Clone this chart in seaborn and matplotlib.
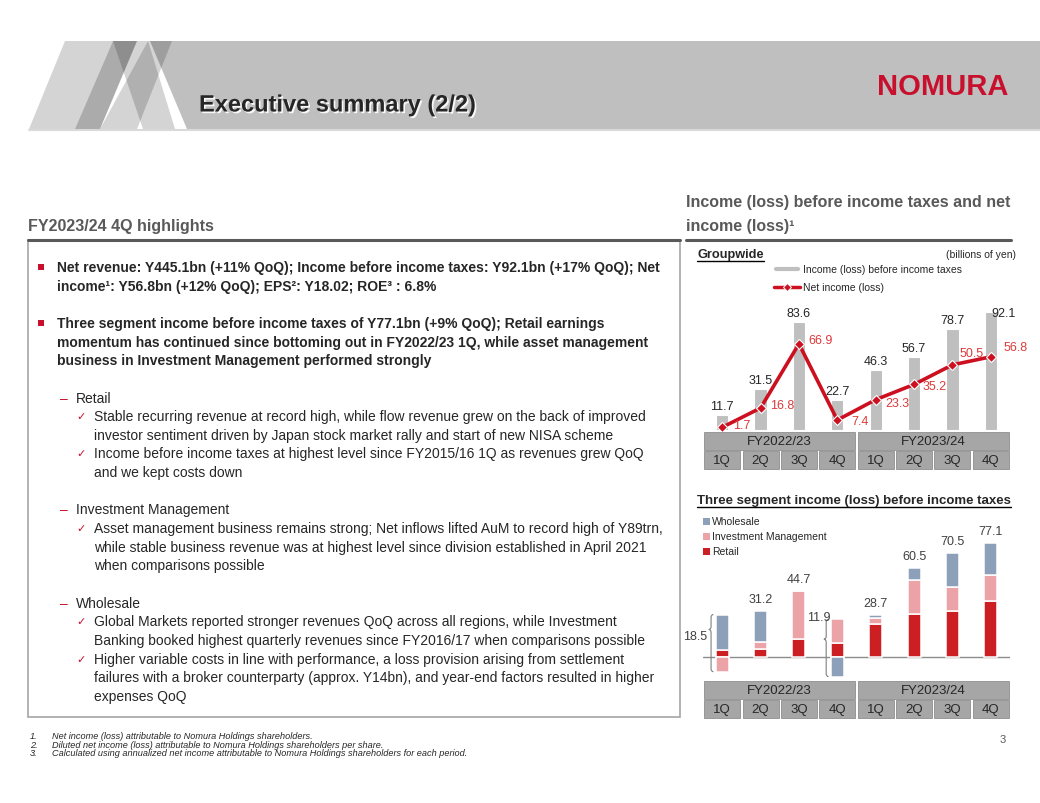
import numpy as np
import pandas as pd
import seaborn as sns
import matplotlib.pyplot as plt
import matplotlib.patheffects as pe
from matplotlib.patches import Rectangle, Polygon, PathPatch
from matplotlib.path import Path

# ---- chart data (billions of yen) ----
periods = ['FY22 1Q', 'FY22 2Q', 'FY22 3Q', 'FY22 4Q',
           'FY23 1Q', 'FY23 2Q', 'FY23 3Q', 'FY23 4Q']
quarter_labels = ['1Q', '2Q', '3Q', '4Q', '1Q', '2Q', '3Q', '4Q']
fiscal_years = ['FY2022/23', 'FY2023/24']

pretax_income = [11.7, 31.5, 83.6, 22.7, 46.3, 56.7, 78.7, 92.1]
net_income = [1.7, 16.8, 66.9, 7.4, 23.3, 35.2, 50.5, 56.8]

retail = [4.3, 5.5, 12.0, 9.0, 22.5, 28.8, 31.4, 38.1]
inv_mgmt = [-10.2, 4.5, 32.5, 16.4, 4.0, 23.3, 16.0, 17.7]
wholesale = [24.4, 21.2, 0.2, -13.5, 2.2, 8.4, 23.1, 21.3]
segment_total = [18.5, 31.2, 44.7, 11.9, 28.7, 60.5, 70.5, 77.1]

# ---- text ----
body = [
    ('b', 'Net revenue: Y445.1bn (+11% QoQ); Income before income taxes: Y92.1bn (+17% QoQ); Net'),
    ('bc', 'income\u00b9: Y56.8bn (+12% QoQ); EPS\u00b2: Y18.02; ROE\u00b3 : 6.8%'),
    ('', ''),
    ('b', 'Three segment income before income taxes of Y77.1bn (+9% QoQ); Retail earnings'),
    ('bc', 'momentum has continued since bottoming out in FY2022/23 1Q, while asset management'),
    ('bc', 'business in Investment Management performed strongly'),
    ('', ''),
    ('d', 'Retail'),
    ('c', 'Stable recurring revenue at record high, while flow revenue grew on the back of improved'),
    ('cc', 'investor sentiment driven by Japan stock market rally and start of new NISA scheme'),
    ('c', 'Income before income taxes at highest level since FY2015/16 1Q as revenues grew QoQ'),
    ('cc', 'and we kept costs down'),
    ('', ''),
    ('d', 'Investment Management'),
    ('c', 'Asset management business remains strong; Net inflows lifted AuM to record high of Y89trn,'),
    ('cc', 'while stable business revenue was at highest level since division established in April 2021'),
    ('cc', 'when comparisons possible'),
    ('', ''),
    ('d', 'Wholesale'),
    ('c', 'Global Markets reported stronger revenues QoQ across all regions, while Investment'),
    ('cc', 'Banking booked highest quarterly revenues since FY2016/17 when comparisons possible'),
    ('c', 'Higher variable costs in line with performance, a loss provision arising from settlement'),
    ('cc', 'failures with a broker counterparty (approx. Y14bn), and year-end factors resulted in higher'),
    ('cc', 'expenses QoQ'),
]
footnotes = [
    'Net income (loss) attributable to Nomura Holdings shareholders.',
    'Diluted net income (loss) attributable to Nomura Holdings shareholders per share.',
    'Calculated using annualized net income attributable to Nomura Holdings shareholders for each period.',
]

W, H = 1040, 804
RED = '#c8102e'
DARK = '#595959'
BAR_GREY = '#bfbfbf'
LINE_RED = '#cc1020'
LABEL_RED = '#dc3a3a'
SEG_COLORS = {'Retail': '#cc1f24', 'Investment Management': '#eba3a7', 'Wholesale': '#8ca0b9'}

sns.set_style('white')
plt.rcParams['font.family'] = ['Liberation Sans', 'DejaVu Sans']


def box(x0, y0, x1, y1):
    # pixel box (from top-left) -> figure fraction rect
    return [x0 / W, 1 - y1 / H, (x1 - x0) / W, (y1 - y0) / H]


fig = plt.figure(figsize=(W / 100, H / 100), dpi=100)
bg = fig.add_axes([0, 0, 1, 1], zorder=0)
bg.set_xlim(0, W)
bg.set_ylim(H, 0)
bg.axis('off')

# ---- header band ----
header_shapes = [
    ([(150, 42), (W, 42), (W, 130), (187, 130)], 0.25),
    ([(29, 130), (75, 130), (113, 42), (65, 42)], 0.17),
    ([(75, 130), (100, 130), (137, 42), (113, 42)], 0.33),
    ([(100, 130), (137, 130), (172, 42), (148, 42)], 0.17),
    ([(113, 42), (148, 42), (175, 130), (143, 130)], 0.17),
]
for pts, a in header_shapes:
    bg.add_patch(Polygon(pts, closed=True, fc='black', alpha=a, lw=0))
bg.plot([29, W], [131, 131], color='#d9d9d9', lw=1.5)
title = bg.text(199, 106, 'Executive summary (2/2)', fontsize=17, fontweight='bold', va='center')
title.set_path_effects([pe.SimplePatchShadow(offset=(1.2, -1.2), shadow_rgbFace='white', alpha=0.9),
                        pe.Normal()])
bg.text(1008, 87, 'NOMURA', ha='right', va='center', fontsize=21, fontweight='bold', color=RED)

# ---- left panel ----
bg.text(28, 226, 'FY2023/24 4Q highlights', fontsize=11.5, fontweight='bold', color=DARK, va='center')
bg.add_patch(Rectangle((28, 241), 652, 477, fill=False, ec='#a6a6a6', lw=1.2))
bg.plot([28, 680], [241, 241], color=DARK, lw=2.2)

for i, (kind, s) in enumerate(body):
    y = 268 + i * 18.65
    if kind in ('b', 'bc'):
        if kind == 'b':
            bg.add_patch(Rectangle((38, y - 3), 6, 6, color=RED, lw=0))
        bg.text(57, y, s, fontsize=10, fontweight='bold', va='center')
    elif kind == 'd':
        bg.text(60, y, '\u2013', fontsize=10, color=RED, va='center')
        bg.text(76, y, s, fontsize=10, va='center')
    elif kind in ('c', 'cc'):
        if kind == 'c':
            bg.text(76, y, '\u2713', fontsize=8, color=RED, va='center')
        bg.text(94, y, s, fontsize=10, va='center')

for i, s in enumerate(footnotes):
    y = 737 + i * 8.3
    bg.text(30, y, f'{i + 1}.', fontsize=6.6, style='italic', va='center')
    bg.text(52, y, s, fontsize=6.6, style='italic', va='center')
bg.text(1003, 740, '3', fontsize=8, color=DARK, va='center', ha='center')

# ---- right panel headings ----
bg.text(686, 203, 'Income (loss) before income taxes and net', fontsize=11.5, fontweight='bold',
        color=DARK, va='center')
bg.text(686, 226, 'income (loss)\u00b9', fontsize=11.5, fontweight='bold', color=DARK, va='center')
bg.plot([686, 1011], [241, 241], color=DARK, lw=2.2)

t_group = bg.text(697, 255, 'Groupwide', fontsize=9.2, fontweight='bold', va='center')
bg.text(1016, 255, '(billions of yen)', fontsize=7.5, ha='right', va='center')
bg.plot([776, 798], [270, 270], color=BAR_GREY, lw=3)
bg.text(803, 270, 'Income (loss) before income taxes', fontsize=7.5, va='center')
bg.plot([774, 800], [288, 288], color=LINE_RED, lw=2.5)
bg.plot([787], [288], marker='D', ms=4, mfc=LINE_RED, mec='white', mew=0.7)
bg.text(803, 288, 'Net income (loss)', fontsize=7.5, va='center')

t_seg = bg.text(697, 501, 'Three segment income (loss) before income taxes', fontsize=9.5,
                fontweight='bold', va='center')
for name, y in [('Wholesale', 522), ('Investment Management', 537), ('Retail', 552)]:
    bg.add_patch(Rectangle((703, y - 3.5), 7, 7, color=SEG_COLORS[name], lw=0))
    bg.text(712, y, name, fontsize=7.5, va='center')


def draw_table(ax):
    ax.set_xlim(-0.5, 7.5)
    ax.set_ylim(0, 2)
    ax.axis('off')
    for i, fy in enumerate(fiscal_years):
        ax.add_patch(Rectangle((i * 4 - 0.47, 1.05), 3.94, 0.9, fc='#a6a6a6', ec='#8f8f8f', lw=0.6))
        ax.text(i * 4 + 1.5, 1.5, fy, ha='center', va='center', fontsize=9.5)
    for j, q in enumerate(quarter_labels):
        ax.add_patch(Rectangle((j - 0.47, 0.05), 0.94, 0.9, fc='#a6a6a6', ec='#8f8f8f', lw=0.6))
        ax.text(j, 0.5, q, ha='center', va='center', fontsize=9.5)


# ---- groupwide chart ----
df_top = pd.DataFrame({'period': periods, 'pretax': pretax_income, 'net': net_income})
ax1 = fig.add_axes(box(703, 290, 1010, 430.5), zorder=2)
ax1.patch.set_alpha(0)
sns.barplot(data=df_top, x='period', y='pretax', color=BAR_GREY, saturation=1, width=0.32,
            edgecolor='white', linewidth=0.8, ax=ax1)
sns.pointplot(data=df_top, x='period', y='net', color=LINE_RED, markers='D', linewidth=2.6,
              markersize=5, markeredgewidth=0.8, errorbar=None, ax=ax1)
for ln in ax1.lines:
    ln.set_markeredgecolor('white')
    ln.set_clip_on(False)
ax1.set_xlim(-0.5, 7.5)
ax1.set_ylim(0, (430.5 - 290) / 1.28)
ax1.axis('off')

bar_label_offsets = [(0, 6)] * 7 + [(13, -4)]
for i, v in enumerate(pretax_income):
    dx, dy = bar_label_offsets[i]
    ax1.annotate(f'{v:.1f}', (i, v), xytext=(dx, dy), textcoords='offset pixels',
                 ha='center', va='baseline', fontsize=9)
net_label_offsets = [(20, 2), (22, 3), (22, 4), (23, -1), (22, -3), (21, -2), (19, 12), (25, 10)]
for i, v in enumerate(net_income):
    dx, dy = net_label_offsets[i]
    ax1.annotate(f'{v:.1f}', (i, v), xytext=(dx, dy), textcoords='offset pixels',
                 ha='center', va='center', fontsize=9, color=LABEL_RED)

draw_table(fig.add_axes(box(703, 432, 1010, 471), zorder=2))

# ---- three segment chart ----
seg_df = pd.DataFrame({'period': periods, 'Retail': retail,
                       'Investment Management': inv_mgmt, 'Wholesale': wholesale})
ax2 = fig.add_axes(box(703, 515, 1010, 680), zorder=2)
ax2.patch.set_alpha(0)
pos_base = np.zeros(len(periods))
neg_base = np.zeros(len(periods))
for name in ['Retail', 'Investment Management', 'Wholesale']:
    vals = seg_df[name].to_numpy()
    bottom = np.where(vals >= 0, pos_base, neg_base)
    sns.barplot(data=seg_df, x='period', y=name, bottom=bottom, color=SEG_COLORS[name],
                saturation=1, width=0.34, edgecolor='white', linewidth=1.1, ax=ax2)
    pos_base += np.clip(vals, 0, None)
    neg_base += np.clip(vals, None, 0)
ax2.axhline(0, color='#8c8c8c', lw=1, zorder=0)
ax2.set_xlim(-0.5, 7.5)
ax2.set_ylim(-(680 - 657.7) / 1.47, (657.7 - 515) / 1.47)
ax2.axis('off')


def brace(ax, x, top, bottom, mid):
    xt, xb, xc = x - 0.23, x - 0.29, x - 0.35
    r = 2.0
    verts = [(xt, top), (xb, top), (xb, top - r), (xb, mid + r), (xb, mid), (xc, mid),
             (xb, mid), (xb, mid - r), (xb, bottom + r), (xb, bottom), (xt, bottom)]
    codes = [Path.MOVETO, Path.CURVE3, Path.CURVE3, Path.LINETO, Path.CURVE3, Path.CURVE3,
             Path.CURVE3, Path.CURVE3, Path.LINETO, Path.CURVE3, Path.CURVE3]
    ax.add_patch(PathPatch(Path(verts, codes), fc='none', ec='#7f7f7f', lw=0.8, clip_on=False))


seg_label_offsets = [(-27, -21), (0, 12), (0, 12), (-19, 2), (0, 12), (0, 12), (0, 12), (0, 12)]
for i, v in enumerate(segment_total):
    if neg_base[i] < 0:
        brace(ax2, i, pos_base[i], neg_base[i], v)
    dx, dy = seg_label_offsets[i]
    ax2.annotate(f'{v:.1f}', (i, pos_base[i]), xytext=(dx, dy), textcoords='offset pixels',
                 ha='center', va='center', fontsize=9, color='#404040')

draw_table(fig.add_axes(box(703, 681, 1010, 720), zorder=2))

# underline the chart headings
fig.canvas.draw()
for t in (t_group, t_seg):
    bb = t.get_window_extent()
    y = H - bb.y0 + 0.5
    bg.plot([bb.x0, bb.x1], [y, y], color='black', lw=1)

fig.savefig('out.png', dpi=100)
